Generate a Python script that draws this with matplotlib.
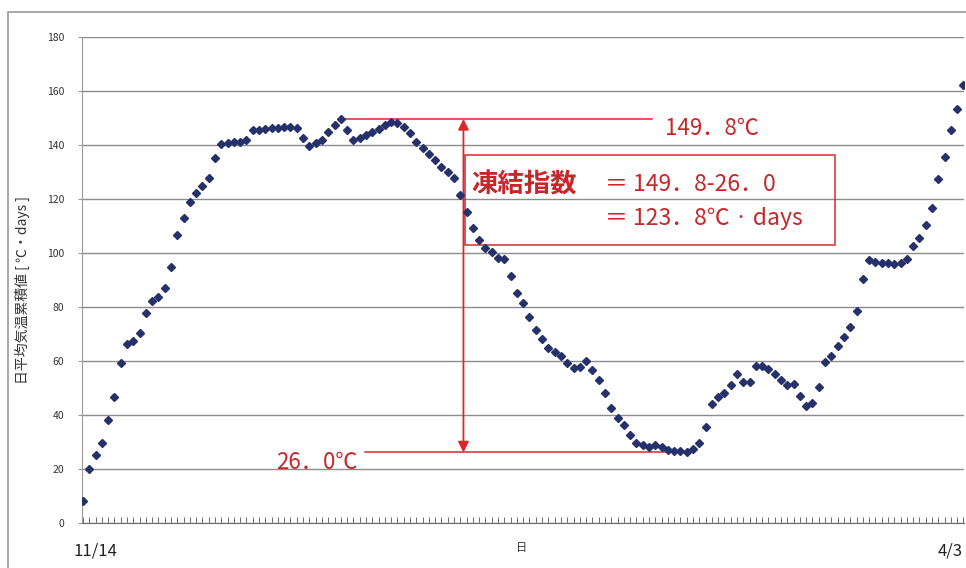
from __future__ import annotations

import matplotlib

matplotlib.use("Agg")

import matplotlib.pyplot as plt
import numpy as np
from matplotlib.patches import Rectangle

plt.rcParams["font.family"] = ["Noto Sans CJK JP", "DejaVu Sans"]

# cumulative daily mean temperature, one value per day from 11/14 to 4/3
cumulative_values = [
    8.1, 19.9, 25.1, 29.4, 38.0, 46.7, 59.3, 66.1, 67.5, 70.2,
    77.6, 82.2, 83.8, 87.0, 95.0, 106.7, 112.9, 118.9, 122.4, 125.0,
    127.8, 135.2, 140.4, 141.0, 141.2, 141.4, 141.8, 145.7, 145.7, 146.0,
    146.3, 146.3, 146.6, 146.9, 146.3, 142.6, 139.7, 141.0, 142.0, 145.0,
    147.6, 149.8, 145.7, 142.0, 142.8, 143.8, 145.0, 146.2, 147.4, 148.6,
    148.3, 146.6, 144.5, 141.4, 138.9, 136.7, 134.6, 132.1, 130.0, 128.0,
    121.7, 115.1, 109.2, 104.9, 101.8, 100.5, 98.1, 97.7, 91.5, 85.3,
    81.4, 76.4, 71.5, 68.0, 64.7, 63.4, 61.8, 59.1, 57.2, 57.8,
    60.0, 56.6, 52.9, 48.0, 42.4, 38.7, 36.2, 32.5, 29.4, 28.8,
    28.1, 28.8, 27.9, 26.9, 26.7, 26.5, 26.0, 27.3, 29.4, 35.4,
    44.1, 46.7, 47.9, 51.2, 55.0, 52.3, 52.3, 58.1, 58.0, 56.8,
    55.2, 53.0, 51.2, 51.4, 47.1, 43.4, 44.5, 50.3, 59.4, 61.8,
    65.4, 68.9, 72.7, 78.4, 90.2, 97.4, 96.8, 96.2, 96.5, 96.0,
    96.2, 97.7, 102.6, 105.7, 110.4, 116.6, 127.4, 135.8, 145.7, 153.4,
    162.4,
]
date_labels = ["11/14", "4/3"]
y_ticks = [0, 20, 40, 60, 80, 100, 120, 140, 160, 180]

peak_value = 149.8
trough_value = 26.0
freezing_index = 123.8
# day index of the peak, trough and of the double arrow
peak_day = 41
trough_day = 96
arrow_day = 60.5

RED = "#d8282c"
TEXT_RED = "#c8262a"
NAVY = "#26306a"


def main() -> None:
    days = np.arange(len(cumulative_values))

    fig = plt.figure(figsize=(9.66, 5.68), dpi=100)
    fig.add_artist(
        Rectangle((8 / 966, -0.05), 1.2, 1.05 - 12 / 568, transform=fig.transFigure,
                  fill=False, edgecolor="#9a9a9a", linewidth=1.2)
    )
    ax = fig.add_axes([0.0849, 0.080, 0.9131, 0.854])

    ax.set_ylim(0, 180)
    ax.set_xlim(-0.15, days[-1] + 0.1)
    ax.set_yticks(y_ticks)
    ax.set_xticks(days)
    ax.set_xticklabels([])
    ax.grid(axis="y", color="#8c8c8c", linewidth=1.0)
    ax.set_axisbelow(True)
    for side in ("top", "right"):
        ax.spines[side].set_visible(False)
    ax.spines["left"].set_color("#9a9a9a")
    ax.spines["bottom"].set_color("#6a6a6a")
    ax.tick_params(axis="x", direction="in", length=4, width=0.6, color="#555555")
    ax.tick_params(axis="y", direction="out", length=3, width=0.8, color="#9a9a9a",
                   labelsize=7.5, labelcolor="#333333", pad=10)

    ax.plot(days, cumulative_values, linestyle="none", marker="D", markersize=4.5,
            color=NAVY, zorder=4)

    # red annotation: max / min reference lines and the double arrow
    ax.plot([peak_day - 0.1, 90.5], [peak_value, peak_value], color=RED, lw=1.1, zorder=3)
    ax.plot([44.9, trough_day + 0.5], [trough_value, trough_value], color=RED, lw=1.1, zorder=3)
    ax.annotate("", xy=(arrow_day, trough_value), xytext=(arrow_day, peak_value),
                arrowprops=dict(arrowstyle="<|-|>", color=RED, lw=1.3,
                                mutation_scale=16, shrinkA=0, shrinkB=0), zorder=3)
    ax.add_patch(Rectangle((arrow_day + 0.2, 103.0), 119.6 - arrow_day - 0.2, 33.4,
                           fill=False, edgecolor=RED, lw=1.1, zorder=3))

    ax.text(92.6, 146.2, f"{peak_value:.1f}℃".replace(".", "．"), color=TEXT_RED,
            fontsize=16, ha="left", va="center")
    ax.text(43.7, 22.4, f"{trough_value:.1f}℃".replace(".", "．"), color=TEXT_RED,
            fontsize=16, ha="right", va="center")
    ax.text(61.8, 125.4, "凍結指数", color=TEXT_RED, fontsize=19, fontweight="bold",
            ha="left", va="center")
    line1 = f"＝ {peak_value:.1f}-{trough_value:.1f}".replace(".", "．")
    line2 = f"＝ {freezing_index:.1f}℃ · days".replace(".", "．")
    ax.text(83.0, 125.4, line1, color=TEXT_RED, fontsize=16.5, ha="left", va="center")
    ax.text(83.0, 113.0, line2, color=TEXT_RED, fontsize=16.5, ha="left", va="center")

    # axis labels
    ax.text(0.015, -0.058, date_labels[0], transform=ax.transAxes, fontsize=12,
            ha="center", va="center", color="#222222")
    ax.text(0.984, -0.058, date_labels[1], transform=ax.transAxes, fontsize=12,
            ha="center", va="center", color="#222222")
    ax.text(0.4985, -0.052, "日", transform=ax.transAxes, fontsize=8,
            ha="center", va="center", color="#333333")
    fig.text(22 / 966, 1 - 290 / 568, "日平均気温累積値 [ ℃・days ]", rotation=90,
             fontsize=10, ha="center", va="center", color="#333333")

    fig.savefig("out.png", dpi=100)
    plt.close(fig)


if __name__ == "__main__":
    main()
